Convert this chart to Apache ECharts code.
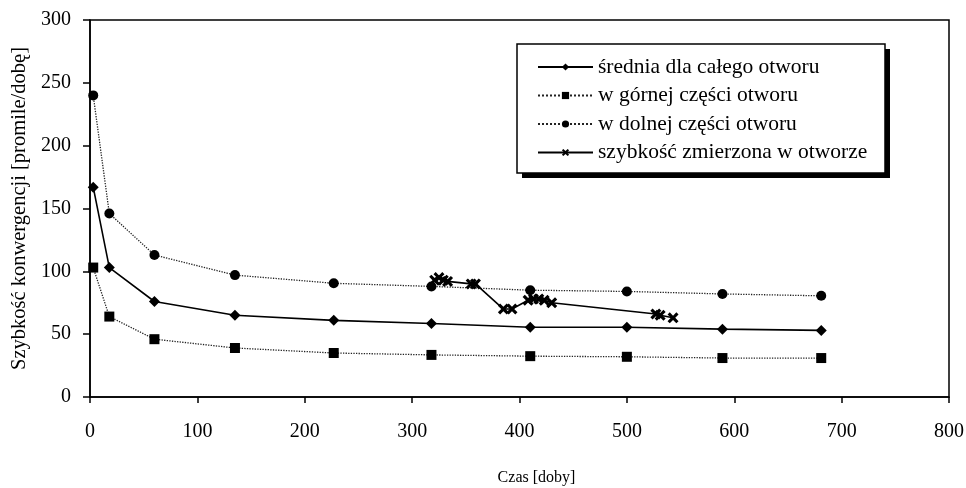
<!DOCTYPE html>
<html>
<head>
<meta charset="utf-8">
<script src="https://cdn.jsdelivr.net/npm/echarts@6/dist/echarts.min.js"></script>
<style>
  html, body { margin: 0; padding: 0; background: #fff; }
  #chart { width: 966px; height: 488px; }
</style>
</head>
<body>
<div id="chart"></div>
<script>
// czas [doby] dla serii obliczonych
const czas = [3, 18, 60, 135, 227, 318, 410, 500, 589, 681]
const srednia = [167, 103, 76, 65, 61, 58.5, 55.5, 55.5, 54, 53]
const gorna = [103, 64, 46, 39, 35, 33.5, 32.5, 32, 31, 31]
const dolna = [240, 146, 113, 97, 90.5, 88, 85, 84, 82, 80.5]
// pomiary w otworze
const czasPomiaru = [321, 325, 329, 333, 355, 359, 385, 393, 408, 413, 418, 423, 430, 527, 531, 543]
const zmierzona = [93, 95, 93, 92, 90, 90, 70, 70, 77, 78, 78, 77, 75, 66, 65, 63]

const seriesNames = [
  'średnia dla całego otworu',
  'w górnej części otworu',
  'w dolnej części otworu',
  'szybkość zmierzona w otworze'
]

const font = "'Liberation Serif', 'Times New Roman', serif"
const crossPath = 'path://M0,2L2,0L5,3L8,0L10,2L7,5L10,8L8,10L5,7L2,10L0,8L3,5Z'

function pairs(xs, ys) {
  return xs.map((x, i) => [x, ys[i]])
}

var myChart = echarts.init(document.getElementById('chart'))
myChart.setOption({
  animation: false,
  backgroundColor: '#fff',
  textStyle: { fontFamily: font, color: '#000' },
  grid: {
    left: 90,
    right: 17,
    top: 20,
    bottom: 91,
    containLabel: false,
    outerBoundsMode: 'none',
    show: true,
    borderColor: '#000',
    borderWidth: 1.5
  },
  // ramka legendy z cieniem
  graphic: [
    { type: 'rect', z: 0, shape: { x: 522, y: 49, width: 368, height: 129 }, style: { fill: '#000' } },
    { type: 'rect', z: 1, shape: { x: 517, y: 44, width: 368, height: 129 }, style: { fill: '#fff', stroke: '#000', lineWidth: 1.5 } }
  ],
  legend: {
    orient: 'vertical',
    left: 537,
    top: 56,
    padding: 0,
    itemWidth: 55,
    itemHeight: 9,
    itemGap: 6.5,
    z: 10,
    textStyle: { fontFamily: font, fontSize: 21.5, color: '#000' },
    data: seriesNames
  },
  xAxis: {
    type: 'value',
    min: 0,
    max: 800,
    interval: 100,
    name: 'Czas [doby]',
    nameLocation: 'middle',
    nameGap: 73,
    nameTextStyle: { fontFamily: font, fontSize: 16, color: '#000', padding: [0, 0, 0, 34] },
    axisLine: { lineStyle: { color: '#000', width: 1.5 } },
    axisTick: { show: true, inside: false, length: 6, lineStyle: { color: '#000', width: 1.5 } },
    axisLabel: { margin: 25, fontFamily: font, fontSize: 20, color: '#000' },
    splitLine: { show: false }
  },
  yAxis: {
    type: 'value',
    min: 0,
    max: 300,
    interval: 50,
    name: 'Szybkość konwergencji [promile/dobę]',
    nameLocation: 'middle',
    nameGap: 50,
    nameTextStyle: { fontFamily: font, fontSize: 20.5, color: '#000' },
    axisLine: { show: true, lineStyle: { color: '#000', width: 1.5 } },
    axisTick: { show: true, inside: false, length: 7, lineStyle: { color: '#000', width: 1.5 } },
    axisLabel: { margin: 19, fontFamily: font, fontSize: 20, color: '#000' },
    splitLine: { show: false }
  },
  series: [
    {
      name: seriesNames[0],
      type: 'line',
      data: pairs(czas, srednia),
      symbol: 'diamond',
      symbolSize: 11,
      itemStyle: { color: '#000' },
      lineStyle: { color: '#000', width: 1.6, type: 'solid' },
      z: 3
    },
    {
      name: seriesNames[1],
      type: 'line',
      data: pairs(czas, gorna),
      symbol: 'rect',
      symbolSize: 10,
      itemStyle: { color: '#000' },
      lineStyle: { color: '#222', width: 1.3, type: 'dotted' },
      z: 2
    },
    {
      name: seriesNames[2],
      type: 'line',
      data: pairs(czas, dolna),
      symbol: 'circle',
      symbolSize: 10,
      itemStyle: { color: '#000' },
      lineStyle: { color: '#222', width: 1.3, type: 'dotted' },
      z: 2
    },
    {
      name: seriesNames[3],
      type: 'line',
      data: pairs(czasPomiaru, zmierzona),
      symbol: crossPath,
      symbolSize: 11,
      itemStyle: { color: '#000' },
      lineStyle: { color: '#000', width: 1.6, type: 'solid' },
      z: 4
    }
  ]
})
</script>
</body>
</html>
